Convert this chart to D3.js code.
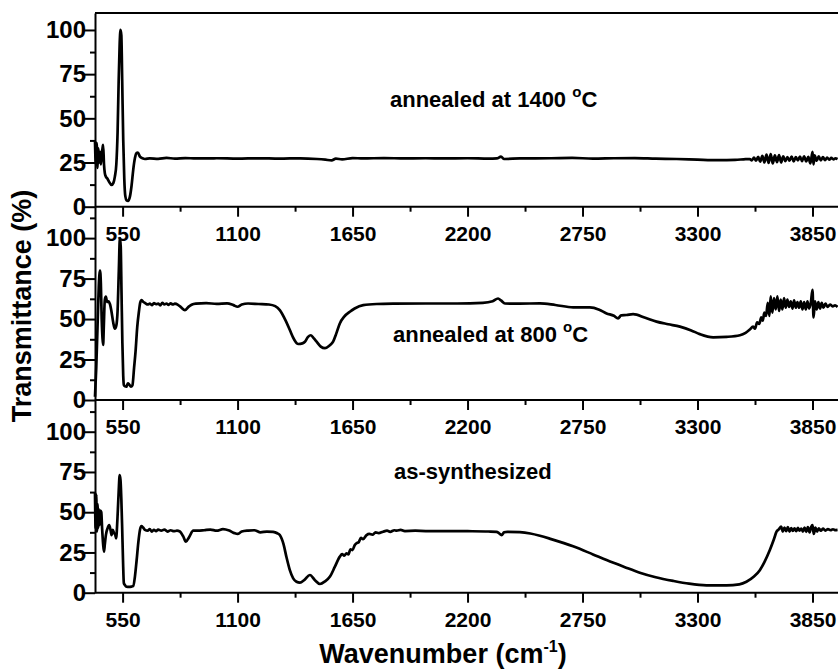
<!DOCTYPE html>
<html>
<head>
<meta charset="utf-8">
<script src="https://cdn.jsdelivr.net/npm/d3@7"></script>
<style>
  html, body { margin: 0; padding: 0; background: #fff; }
  svg { display: block; font-family: Arial, "Liberation Sans", Helvetica, sans-serif; }
</style>
</head>
<body>
<svg id="chart" width="838" height="670"></svg>
<script>
// ---------- data ----------
const xTickValues = [550, 1100, 1650, 2200, 2750, 3300, 3850];
const xMinorValues = [825, 1375, 1925, 2475, 3025, 3575];
const yTickValues = [0, 25, 50, 75, 100];
const yMinorValues = [12.5, 37.5, 62.5, 87.5, 112.5];
const panelLabels = ["annealed at 1400 ", "annealed at 800 ", "as-synthesized"];

// [wavenumber, transmittance %]
const annealed1400 = [
  [418,37],[422,24],[426,36],[430,22],[434,33],[438,25],[442,31],[446,24],[450,30],[454,33],[457,35],
  [461,24],[465,19],[470,17],[477,16],[486,14],[497,12.3],[506,13.5],[513,17],[520,24],[526,42],
  [531,70],[536,92],[540,100],[544,97],[548,72],[553,38],[558,16],[563,6],[569,3.6],[576,3.3],
  [585,5.7],[593,12],[601,21],[609,27.5],[617,30.4],[623,30.6],[633,28.3],[645,27.4],[657,27],
  [680,27.4],[720,27.1],[760,27.6],[800,27.2],[850,27.5],[900,27.3],[1000,27.4],[1100,27.2],
  [1200,27.4],[1300,27.2],[1400,27.4],[1480,27],[1520,26.6],[1550,26.2],[1570,27.2],[1600,26.8],
  [1650,27.5],[1700,27.3],[1800,27.5],[1900,27.3],[2000,27.4],[2100,27.3],[2200,27.4],[2300,27.2],
  [2340,27.3],[2360,28.3],[2375,27],[2450,27.3],[2600,27.4],[2700,27.6],[2800,27.2],[2900,27.4],
  [3000,27.5],[3100,27.2],[3200,27.0],[3300,26.6],[3400,26.3],[3480,26.5],[3530,26.9],
  [3550,27],[3560,26.2],[3570,27.8],[3580,26],[3590,28.2],[3600,25.5],[3610,28.8],[3620,25],
  [3630,29.5],[3640,24.8],[3650,29.8],[3660,24.5],[3670,29],[3680,25.2],[3690,29.2],[3700,25],
  [3710,28.5],[3720,25.8],[3730,28],[3740,26],[3750,28.4],[3760,25.6],[3770,28],[3780,26.2],
  [3790,28.3],[3800,25.8],[3810,28.5],[3820,25.6],[3830,28.2],[3840,24.5],[3850,31],[3855,24],
  [3860,29],[3870,26],[3880,28.5],[3890,26.2],[3900,28],[3910,26.4],[3920,27.8],[3930,26.6],
  [3940,27.6],[3950,26.8],[3960,27.4],[3970,27]
];

const annealed800 = [
  [418,2],[424,20],[430,45],[436,70],[442,80],[446,72],[450,50],[454,38],[457,34],[460,45],
  [465,62],[470,63.8],[476,60.5],[482,61],[490,59],[497,54.5],[505,48],[513,44],[520,46],[526,55],
  [532,80],[537,100],[541,95],[545,65],[549,35],[553,15],[556,9.3],[562,8.4],[568,8.2],[575,10.3],
  [582,9.5],[590,8.2],[597,9],[605,20],[612,30],[620,45],[628,54.5],[634,60],[641,61.7],[650,60.5],
  [660,59.7],[670,59],[680,59.5],[690,58.6],[700,59.8],[710,59.2],[720,59.5],[730,58.5],[740,60],
  [750,59],[760,59.6],[770,58.8],[780,59.7],[790,59],[800,59.5],[815,58.8],[830,57.2],[848,55.5],
  [865,57.5],[880,58.8],[900,59.5],[950,59.8],[1000,59.4],[1050,59.7],[1080,58.6],[1100,57.6],
  [1120,59],[1150,59.6],[1200,59.3],[1250,59],[1280,58],[1302,55.5],[1330,49],[1350,43.2],
  [1370,37.5],[1390,34.6],[1410,35],[1422,36],[1437,39],[1451,40],[1465,38],[1478,36],[1498,33],
  [1518,32],[1538,33.5],[1557,36],[1572,41],[1589,47.3],[1610,51.5],[1637,54.5],[1660,56.5],
  [1701,58.6],[1765,59.3],[1850,59.5],[2000,59.6],[2150,59.6],[2273,60],[2320,61],[2346,62.7],
  [2360,61.5],[2379,59.6],[2450,59.5],[2546,59.7],[2620,58.7],[2705,57.2],[2785,57.2],[2830,55.8],
  [2865,53.5],[2900,52],[2920,50.4],[2935,52.3],[2960,52.5],[2992,53],[3050,50.8],[3104,48.4],
  [3160,46.8],[3216,45.3],[3270,43],[3311,40.7],[3375,38.7],[3440,39],[3503,40],[3530,41.5],
  [3550,43.5],[3566,45.3],[3575,44],[3585,48],[3595,47],[3605,51],[3612,49],[3620,54],[3628,52],
  [3636,60],[3644,52],[3650,64],[3658,54],[3666,63],[3674,56],[3682,64],[3690,55],[3698,62],
  [3706,56],[3714,63],[3722,57],[3730,62],[3738,57.5],[3746,61],[3754,56.5],[3762,61.5],[3770,57],
  [3778,60.5],[3786,57],[3794,61],[3802,56],[3810,60.5],[3818,56],[3826,61],[3834,56.5],[3842,60],
  [3850,68],[3855,51],[3862,61],[3870,56],[3878,60.5],[3886,56.5],[3894,60],[3902,57],[3912,59.5],
  [3922,57.5],[3934,59],[3946,57.8],[3958,58.5],[3970,57.5]
];

const asSynthesized = [
  [418,62],[421,40],[424,61],[427,38],[430,55],[433,40],[436,52],[440,42],[444,51],[448,50],
  [452,40],[457,30],[461,25.5],[465,30],[470,35.8],[478,40],[486,42],[493,38.5],[497,35.8],
  [503,39],[509,37],[515,36],[519,33.8],[525,45],[531,62],[536,73],[540,70],[544,58],[548,40],
  [552,20],[556,6],[561,4.8],[569,3.7],[580,3.6],[592,3.8],[601,4.2],[609,10],[617,20],[625,31],
  [633,39],[640,41.4],[648,40.5],[657,39],[670,38.5],[680,39.5],[690,38],[700,39],[710,38.2],
  [720,39.2],[735,38.5],[750,39.2],[765,38],[780,38.8],[795,38.2],[810,38.5],[824,38],[840,35],
  [853,31.7],[868,34.5],[888,38.5],[910,38.5],[940,38.8],[970,39.2],[1000,38.5],[1030,39.5],
  [1060,38.6],[1085,37],[1100,36.5],[1120,38],[1150,38.6],[1180,38.8],[1210,37.5],[1240,38],
  [1270,37.8],[1290,36.9],[1302,35.8],[1320,30],[1334,22],[1350,14],[1366,8.9],[1382,6.8],
  [1398,6.2],[1420,8],[1446,11],[1470,7.8],[1494,5.4],[1518,7],[1542,10],[1565,16],[1589,22.4],
  [1600,24],[1610,23],[1621,24.5],[1630,23.8],[1640,27],[1650,26.5],[1660,29.5],[1669,30.7],
  [1680,31.5],[1690,34],[1700,33.2],[1717,35.8],[1730,36.5],[1745,36],[1760,37.5],[1775,37],
  [1796,37.9],[1815,38.5],[1830,37.8],[1850,38.8],[1861,38.5],[1880,39],[1900,38.3],[1950,38.5],
  [2000,38.3],[2100,38.3],[2200,38.2],[2300,38],[2339,37.8],[2350,37],[2363,35.8],[2375,37.5],
  [2390,37.8],[2450,37.6],[2500,36.8],[2546,35.4],[2600,33.3],[2705,28.8],[2800,23.8],[2865,20.3],
  [2950,16],[3024,12.4],[3100,9.6],[3184,7.3],[3260,5.6],[3343,4.6],[3439,4.5],[3500,5.2],
  [3534,6.8],[3570,10],[3598,14],[3620,19],
  [3646,26.5],[3665,33],[3678,37.9],[3690,39.5],[3700,41],[3708,38],[3716,40.5],[3724,38.2],
  [3732,40.8],[3740,38],[3748,40.2],[3756,38.4],[3764,40],[3772,38.2],[3780,40.3],[3788,38.5],
  [3796,39.8],[3804,38],[3812,40.5],[3820,37.8],[3828,40.8],[3836,37.5],[3844,41],[3850,42],
  [3856,36.5],[3864,40.5],[3872,38],[3880,40],[3890,38.5],[3900,39.8],[3912,38.6],[3924,39.5],
  [3936,38.8],[3948,39.4],[3960,38.9],[3970,39]
];

const seriesList = [annealed1400, annealed800, asSynthesized];

// ---------- layout ----------
const svg = d3.select("#chart");
const left = 95, right = 838;
const x = d3.scaleLinear().domain([418, 3972]).range([left, right]);
const fmt = d3.format("d");

const panels = [
  { top: 13,    bottom: 206.7, ymax: 109.6, label: { x: 390, y: 107 }, degree: true },
  { top: 206.7, bottom: 400,   ymax: 119.4, label: { x: 393, y: 342 }, degree: true },
  { top: 400,   bottom: 592.7, ymax: 119.7, label: { x: 394, y: 479 }, degree: false }
];

const line = d3.line().curve(d3.curveMonotoneX);

panels.forEach((p, i) => {
  const y = d3.scaleLinear().domain([0, p.ymax]).range([p.bottom, p.top]);
  const g = svg.append("g");

  // data line
  line.x(d => x(d[0])).y(d => y(d[1]));
  g.append("path")
    .datum(seriesList[i])
    .attr("d", line)
    .attr("fill", "none")
    .attr("stroke", "#000")
    .attr("stroke-width", 2.7)
    .attr("stroke-linejoin", "round");

  // x axis (major)
  const xAxis = g.append("g")
    .attr("transform", `translate(0,${p.bottom})`)
    .call(d3.axisBottom(x).tickValues(xTickValues).tickFormat(fmt)
      .tickSize(10).tickSizeOuter(0).tickPadding(9.5));
  xAxis.select(".domain").attr("stroke-width", 2).attr("d", `M${left},0H${right}`);
  xAxis.selectAll(".tick line").attr("stroke-width", 2);
  xAxis.selectAll(".tick text")
    .attr("font-size", 21).attr("font-weight", "bold").attr("fill", "#000");
  // x minor
  g.append("g")
    .attr("transform", `translate(0,${p.bottom})`)
    .call(d3.axisBottom(x).tickValues(xMinorValues).tickSize(5).tickFormat(""))
    .call(s => s.select(".domain").remove())
    .selectAll(".tick line").attr("stroke-width", 2);

  // y axis (major)
  const yAxis = g.append("g")
    .attr("transform", `translate(${left},0)`)
    .call(d3.axisLeft(y).tickValues(yTickValues).tickFormat(fmt).tickSize(12).tickSizeOuter(0));
  yAxis.select(".domain").attr("stroke-width", 2);
  yAxis.selectAll(".tick line").attr("stroke-width", 2);
  yAxis.selectAll(".tick text")
    .attr("x", -9)
    .attr("font-size", 24).attr("font-weight", "bold").attr("fill", "#000");
  // y minor
  g.append("g")
    .attr("transform", `translate(${left},0)`)
    .call(d3.axisLeft(y).tickValues(yMinorValues.filter(v => v < p.ymax)).tickSize(5).tickFormat(""))
    .call(s => s.select(".domain").remove())
    .selectAll(".tick line").attr("stroke-width", 2);

  // panel label
  const t = g.append("text")
    .attr("x", p.label.x).attr("y", p.label.y)
    .attr("font-size", 22).attr("font-weight", "bold").attr("fill", "#000")
    .text(panelLabels[i]);
  if (p.degree) {
    t.append("tspan").attr("font-size", 15).attr("dy", -10).text("o");
    t.append("tspan").attr("dy", 10).text("C");
  }
});

// top border
svg.append("line")
  .attr("x1", left).attr("x2", right).attr("y1", 13).attr("y2", 13)
  .attr("stroke", "#000").attr("stroke-width", 2);

// axis titles
svg.append("text")
  .attr("transform", "translate(31,306) rotate(-90)")
  .attr("text-anchor", "middle")
  .attr("font-size", 27).attr("font-weight", "bold")
  .text("Transmittance (%)");

const xt = svg.append("text")
  .attr("x", 443).attr("y", 663)
  .attr("text-anchor", "middle")
  .attr("font-size", 27).attr("font-weight", "bold");
xt.append("tspan").text("Wavenumber (cm");
xt.append("tspan").attr("font-size", 16).attr("dy", -11).text("-1");
xt.append("tspan").attr("dy", 11).text(")");
</script>
</body>
</html>
